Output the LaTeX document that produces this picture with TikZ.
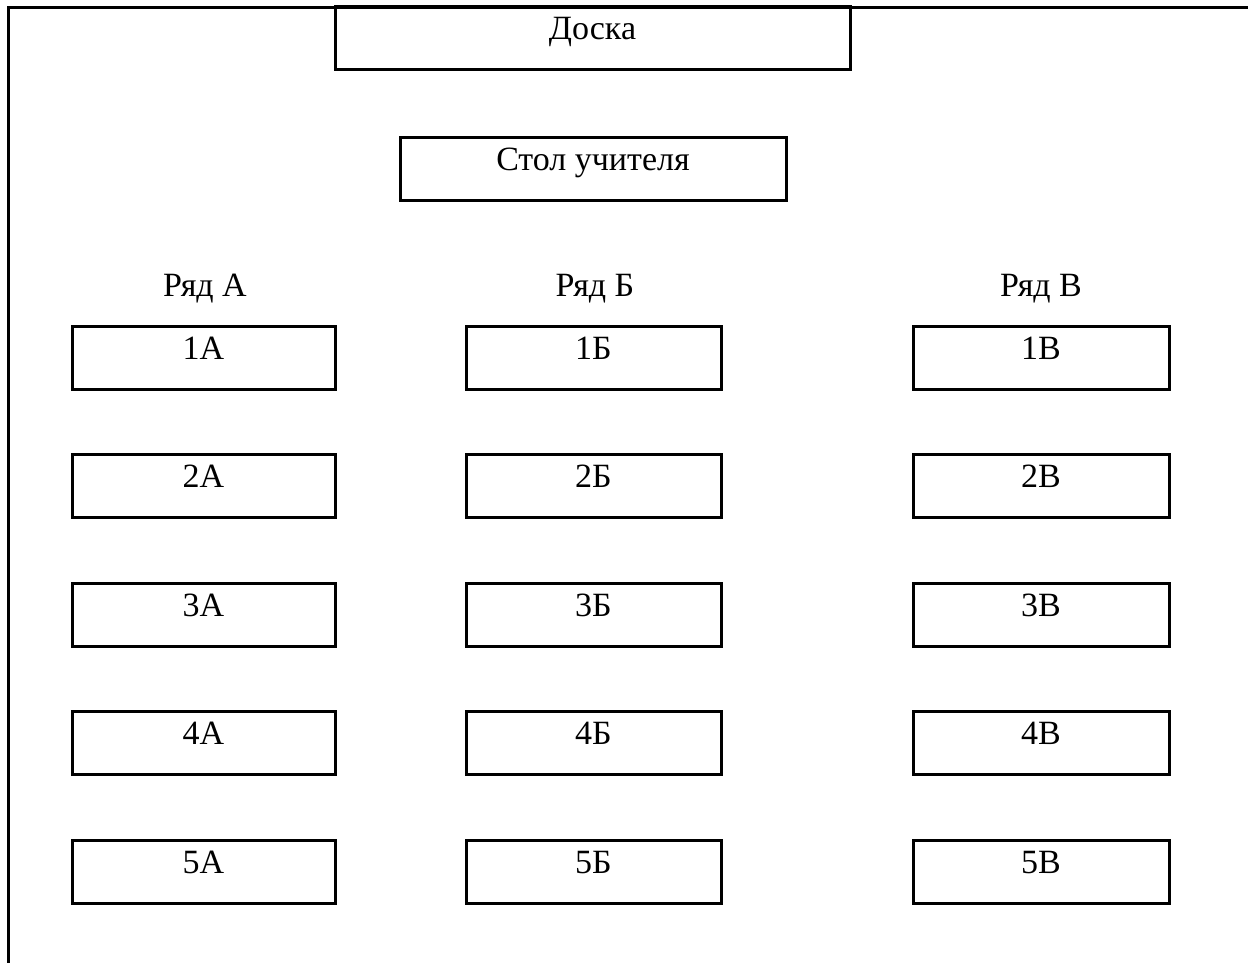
\documentclass[tikz,border=0pt]{standalone}
\usepackage{fontspec}
\setmainfont{Liberation Serif}
\usetikzlibrary{positioning}

\begin{document}
\begin{tikzpicture}[x=0.5pt, y=-0.5pt, font=\fontsize{17}{20}\selectfont,
  node distance=31.25pt,
  box/.style={draw, line width=1.5pt, inner sep=0pt, text height=16.5pt, text depth=15pt},
  deskA/.style={box, minimum width=131.5pt},
  deskB/.style={box, minimum width=127.5pt},
  deskC/.style={box, minimum width=128pt}]
\useasboundingbox (0,0) rectangle (1248,963);
\draw[line width=1.5pt] (8,963) -- (8,7.5) -- (1248,7.5);

\node (board) [box, minimum width=257.5pt] at (592.5,38.5) {Доска};
\node (teacher) [box, minimum width=193pt] at (593,169) {Стол учителя};

\node (rowA) [anchor=base] at (205,296) {Ряд А};
\node (rowB) [anchor=base] at (595,296) {Ряд Б};
\node (rowC) [anchor=base] at (1041,296) {Ряд В};

\node (a1) [deskA] at (203.5,357.5) {1А};
\node (a2) [deskA, below=of a1] {2А};
\node (a3) [deskA, below=of a2] {3А};
\node (a4) [deskA, below=of a3] {4А};
\node (a5) [deskA, below=of a4] {5А};

\node (b1) [deskB] at (593.5,357.5) {1Б};
\node (b2) [deskB, below=of b1] {2Б};
\node (b3) [deskB, below=of b2] {3Б};
\node (b4) [deskB, below=of b3] {4Б};
\node (b5) [deskB, below=of b4] {5Б};

\node (c1) [deskC] at (1041,357.5) {1В};
\node (c2) [deskC, below=of c1] {2В};
\node (c3) [deskC, below=of c2] {3В};
\node (c4) [deskC, below=of c3] {4В};
\node (c5) [deskC, below=of c4] {5В};
\end{tikzpicture}
\end{document}
